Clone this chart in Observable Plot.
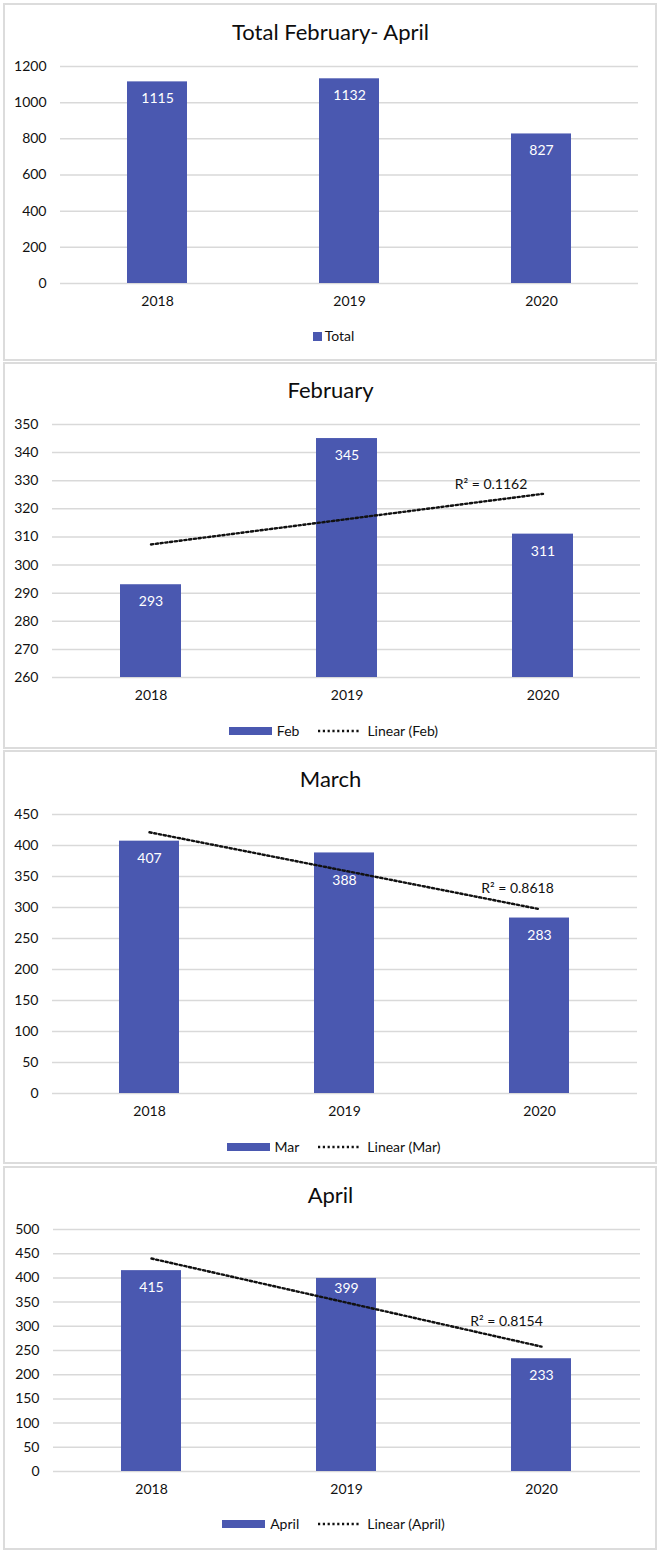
<!DOCTYPE html>
<html>
<head>
<meta charset="utf-8">
<script src="https://cdn.jsdelivr.net/npm/d3@7"></script>
<script src="https://cdn.jsdelivr.net/npm/@observablehq/plot@0.6"></script>
<style>
  body { margin: 0; background: #fff; font-family: Lato, "Open Sans", sans-serif; }
  #page { position: relative; width: 661px; height: 1552px; overflow: hidden; background: #fff; }
  .panel { position: absolute; box-sizing: border-box; border: 2px solid #dcdcdc; background: #fff; }
  .title { position: absolute; left: 0; width: 661px; text-align: center; font-size: 22px; line-height: 24px; color: #0d0d0d; }
  .legend { position: absolute; left: 0; width: 667px; height: 16px; display: flex; justify-content: center; align-items: center; font-size: 14px; line-height: 16px; color: #111; }
  .chart { position: absolute; left: 0; }
</style>
</head>
<body>
<div id="page"></div>
<script>
// ---- data ----
const years = ["2018", "2019", "2020"];
const totalValues = [1115, 1132, 827];
const febValues = [293, 345, 311];
const marValues = [407, 388, 283];
const aprValues = [415, 399, 233];

const totalTicks = [0, 200, 400, 600, 800, 1000, 1200];
const febTicks = [260, 270, 280, 290, 300, 310, 320, 330, 340, 350];
const marTicks = [0, 50, 100, 150, 200, 250, 300, 350, 400, 450];
const aprTicks = [0, 50, 100, 150, 200, 250, 300, 350, 400, 450, 500];

const titles = ["Total February- April", "February", "March", "April"];
const seriesNames = ["Total", "Feb", "Mar", "April"];
const r2Labels = ["R² = 0.1162", "R² = 0.8618", "R² = 0.8154"];

// ---- drawing ----
const page = document.getElementById("page");
const BAR = "#4a58b0";
const INK = "#111";
const FS = 14;

function fitLine(values) {
  const xs = values.map((_, i) => i);
  const mx = d3.mean(xs), my = d3.mean(values);
  const slope = d3.sum(xs, (x, i) => (x - mx) * (values[i] - my)) / d3.sum(xs, x => (x - mx) ** 2);
  return xs.map(x => my + slope * (x - mx));
}

function panel(cfg) {
  const box = document.createElement("div");
  box.className = "panel";
  Object.assign(box.style, {left: "3px", top: cfg.top + "px", width: "654px", height: (cfg.bottom - cfg.top) + "px"});
  page.appendChild(box);

  const t = document.createElement("div");
  t.className = "title";
  t.textContent = cfg.title;
  t.style.top = (cfg.titleY - 12) + "px";
  page.appendChild(t);

  const ticks = cfg.ticks;
  const yMin = ticks[0], yMax = ticks[ticks.length - 1];
  const rows = years.map((year, i) => ({year, value: cfg.values[i]}));
  const marks = [
    Plot.ruleY(ticks, {stroke: "#d9d9d9", strokeWidth: 1.5}),
    Plot.barY(rows, {x: "year", y1: () => yMin, y2: "value", fill: BAR}),
    ...rows.map((r, i) => Plot.text([r], {x: "year", y: "value", text: d => String(d.value), dy: cfg.labelDy[i], fill: "white", fontSize: FS}))
  ];
  if (cfg.trend) {
    const fit = fitLine(cfg.values);
    const fitRows = years.map((year, i) => ({year, fit: fit[i]}));
    marks.push(Plot.line(fitRows, {x: "year", y: "fit", stroke: INK, strokeWidth: 2.4, strokeDasharray: "2.2,2.6"}));
    marks.push(Plot.text([{year: years[years.length - 1], fit: fit[fit.length - 1], label: cfg.r2}],
      {x: "year", y: "fit", text: "label", dx: cfg.r2dx, dy: cfg.r2dy, fill: INK, fontSize: FS}));
  }
  const mt = 20, mb = 40;
  const svg = Plot.plot({
    width: 661,
    height: (cfg.gridBottom - cfg.gridTop) + mt + mb,
    marginTop: mt, marginBottom: mb,
    marginLeft: cfg.xLeft, marginRight: 661 - cfg.xRight,
    style: {fontFamily: "Lato, 'Open Sans', sans-serif", fontSize: FS + "px", color: INK, background: "transparent", overflow: "visible"},
    x: {domain: years, paddingInner: 0.69, paddingOuter: 0.345, tickSize: 0, tickPadding: 13, label: null},
    y: {domain: [yMin, yMax], ticks: ticks, tickSize: 0, tickPadding: 14, tickFormat: "d", label: null},
    marks
  });
  const holder = document.createElement("div");
  holder.className = "chart";
  holder.style.top = (cfg.gridTop - mt) + "px";
  holder.appendChild(svg);
  page.appendChild(holder);

  const lg = document.createElement("div");
  lg.className = "legend";
  lg.style.top = (cfg.legendY - 8) + "px";
  if (cfg.trend) {
    lg.innerHTML = `<span style="display:inline-block;width:43px;height:8px;background:${BAR};margin-right:5px"></span>` +
      `<span>${cfg.name}</span>` +
      `<svg width="44" height="4" style="margin:0 6px 0 18px"><line x1="1" y1="2" x2="44" y2="2" stroke="${INK}" stroke-width="2.4" stroke-dasharray="2.2,2.6"/></svg>` +
      `<span>Linear (${cfg.name})</span>`;
  } else {
    lg.innerHTML = `<span style="display:inline-block;width:9px;height:9px;background:${BAR};margin-right:3px"></span><span>${cfg.name}</span>`;
  }
  page.appendChild(lg);
}

panel({top: 3, bottom: 361, title: titles[0], titleY: 32, gridTop: 66, gridBottom: 283, xLeft: 60, xRight: 638,
  legendY: 336, values: totalValues, ticks: totalTicks, name: seriesNames[0], trend: false, labelDy: [17, 17, 17]});
panel({top: 362, bottom: 749, title: titles[1], titleY: 390, gridTop: 424, gridBottom: 677, xLeft: 52, xRight: 640,
  legendY: 731, values: febValues, ticks: febTicks, name: seriesNames[1], trend: true, r2: r2Labels[0], r2dx: -52, r2dy: -9, labelDy: [17, 17, 17]});
panel({top: 750, bottom: 1164, title: titles[2], titleY: 779, gridTop: 814, gridBottom: 1093, xLeft: 52, xRight: 637,
  legendY: 1147, values: marValues, ticks: marTicks, name: seriesNames[2], trend: true, r2: r2Labels[1], r2dx: -22, r2dy: -21, labelDy: [17, 28, 17]});
panel({top: 1166, bottom: 1550, title: titles[3], titleY: 1195, gridTop: 1229, gridBottom: 1471, xLeft: 53, xRight: 640,
  legendY: 1524, values: aprValues, ticks: aprTicks, name: seriesNames[3], trend: true, r2: r2Labels[2], r2dx: -35, r2dy: -25, labelDy: [17, 10, 17]});
</script>
</body>
</html>
